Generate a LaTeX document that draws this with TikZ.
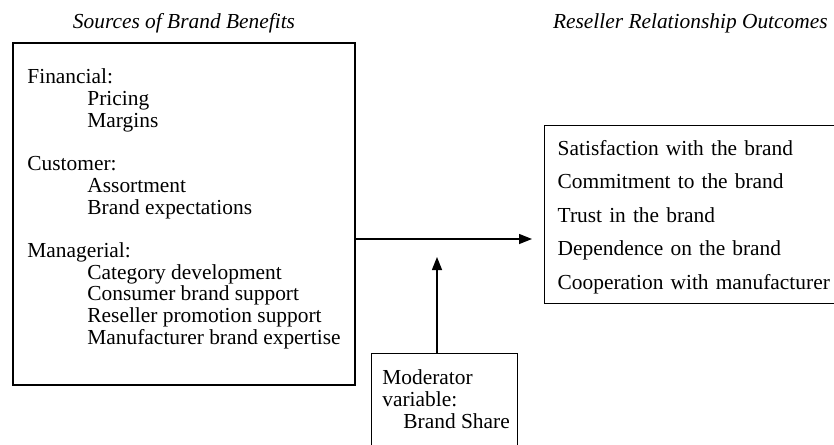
\documentclass[tikz,border=0pt]{standalone}
\usepackage{fontspec}
\setmainfont{Liberation Serif}
\usetikzlibrary{arrows.meta}

\begin{document}
\begin{tikzpicture}[x=0.5pt,y=-0.5pt,
  every node/.style={font=\fontsize{10.7}{10.85}\selectfont},
  heading/.style={font=\fontsize{10.7}{10.85}\selectfont\itshape},
  source/.style={draw,line width=0.7pt,minimum width=171pt,minimum height=171pt},
  outcome/.style={draw,line width=0.7pt,align=left,anchor=north west,
    text width=140pt,inner xsep=6.5pt,minimum height=89pt,
    font=\fontsize{10.7}{16.75}\selectfont},
  moderator/.style={draw,line width=0.7pt,anchor=north west,
    minimum width=73pt,minimum height=60pt},
  to/.style={-{Triangle[length=6.5pt,width=5pt]},line width=0.7pt}]

  \useasboundingbox (0,0) rectangle (834,444);
  \clip (0,0) rectangle (834,444);

  % headings
  \node[heading] (srctitle) at (184,23) {Sources of Brand Benefits};
  \node[heading,anchor=east,inner xsep=0pt] (outtitle) at (828,23) {Reseller Relationship Outcomes};

  \node[source] (sources) at (184,214) {};
  \node[align=left,inner sep=0pt] (srclist) at (184,209) {Financial:\\
    \hspace*{30pt}Pricing\\
    \hspace*{30pt}Margins\\[10.85pt]
    Customer:\\
    \hspace*{30pt}Assortment\\
    \hspace*{30pt}Brand expectations\\[10.85pt]
    Managerial:\\
    \hspace*{30pt}Category development\\
    \hspace*{30pt}Consumer brand support\\
    \hspace*{30pt}Reseller promotion support\\
    \hspace*{30pt}Manufacturer brand expertise};

  \node[outcome] (outcomes) at (544,125) {\rule{0pt}{10pt}Satisfaction with the brand\\
    Commitment to the brand\\
    Trust in the brand\\
    Dependence on the brand\\
    Cooperation with manufacturer};

  \node[moderator] (modbox) at (371,353) {};
  \node[anchor=north west,inner sep=0pt,align=left,
    font=\fontsize{10.7}{11}\selectfont] (modtext) at (382,369) {Moderator\\
    variable:\\
    \hspace*{10.5pt}Brand Share};

  \coordinate (split) at (355,239);
  \coordinate (modtip) at (437,257);
  \draw[to,shorten >=6pt] (sources.east |- split) -- (outcomes.west |- split);
  \draw[to] (modbox.north -| modtip) -- (modtip);
\end{tikzpicture}
\end{document}
